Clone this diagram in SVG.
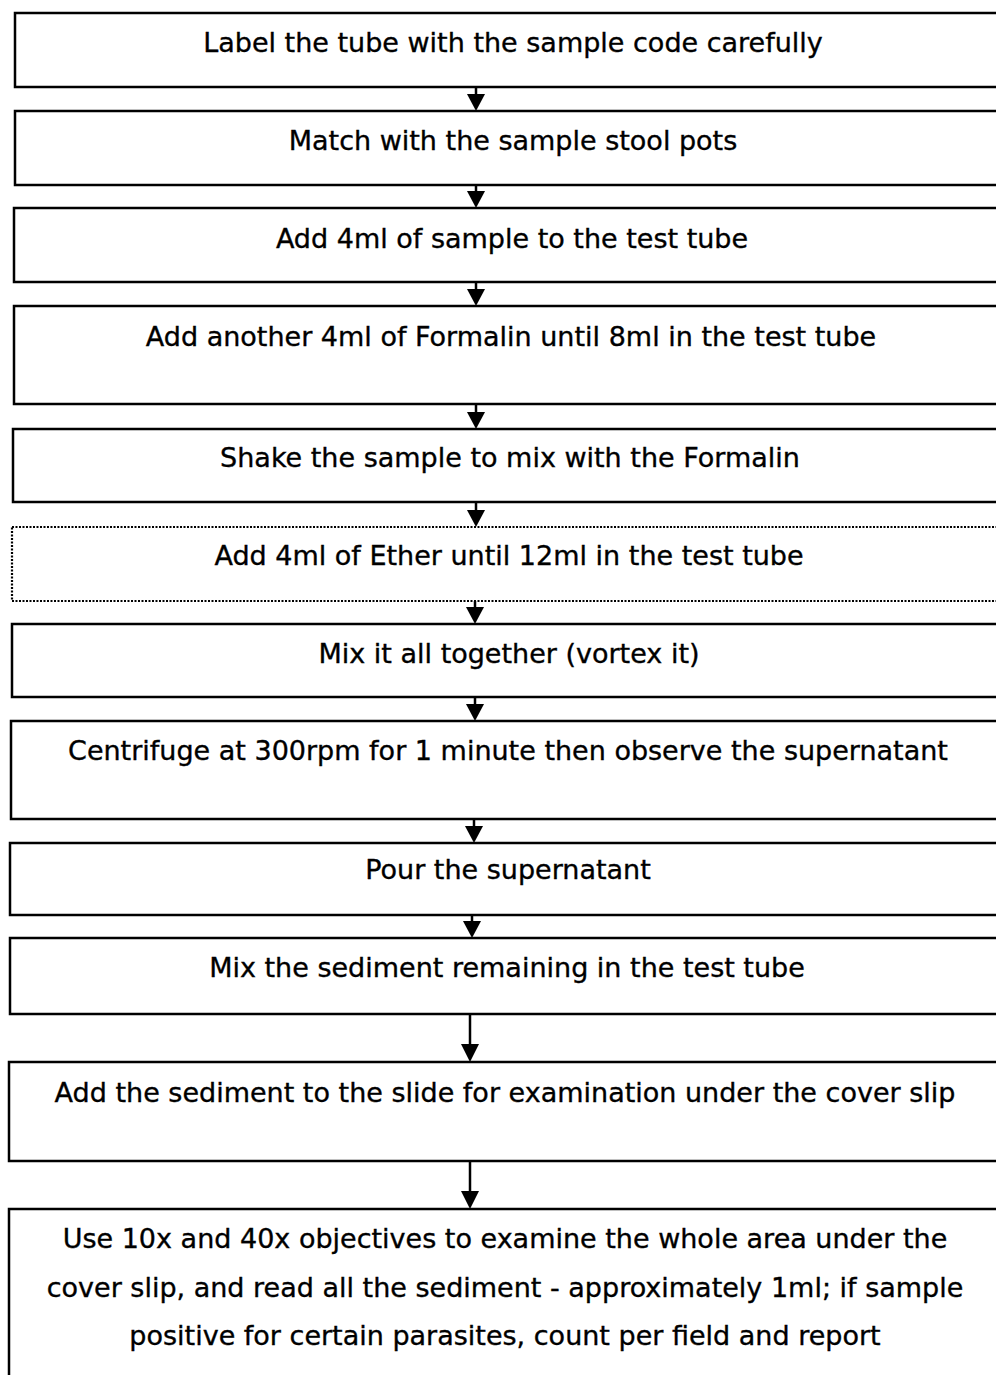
<svg xmlns="http://www.w3.org/2000/svg" width="996" height="1375" viewBox="0 0 996 1375">
<defs>
<style>
.box{fill:#fff;stroke:#000;stroke-width:2.5}
.dot{fill:#fff;stroke:#000;stroke-width:2.2;stroke-dasharray:2 1.5}
.t{font-family:"DejaVu Sans","Verdana",sans-serif;font-size:27px;fill:#000;stroke:#000;stroke-width:0.35;text-anchor:middle}
.ln{stroke:#000;stroke-width:2.5;fill:none}
</style>
</defs>
<rect width="996" height="1375" fill="#fff"/>
<g id="connectors">
<line class="ln" x1="476" y1="87" x2="476" y2="100"/><path d="M467,94 L485,94 L476,111 z"/>
<line class="ln" x1="476" y1="185" x2="476" y2="197"/><path d="M467,191 L485,191 L476,208 z"/>
<line class="ln" x1="476" y1="282" x2="476" y2="295"/><path d="M467,289 L485,289 L476,306 z"/>
<line class="ln" x1="476" y1="404" x2="476" y2="418"/><path d="M467,412 L485,412 L476,429 z"/>
<line class="ln" x1="476" y1="502" x2="476" y2="516"/><path d="M467,510 L485,510 L476,527 z"/>
<line class="ln" x1="475" y1="601" x2="475" y2="613"/><path d="M466,607 L484,607 L475,624 z"/>
<line class="ln" x1="475" y1="697" x2="475" y2="710"/><path d="M466,704 L484,704 L475,721 z"/>
<line class="ln" x1="474" y1="819" x2="474" y2="832"/><path d="M465,826 L483,826 L474,843 z"/>
<line class="ln" x1="472" y1="915" x2="472" y2="927"/><path d="M463,921 L481,921 L472,938 z"/>
<line class="ln" x1="470" y1="1014" x2="470" y2="1050"/><path d="M461,1044 L479,1044 L470,1062 z"/>
<line class="ln" x1="470" y1="1161" x2="470" y2="1197"/><path d="M461,1191 L479,1191 L470,1209 z"/>
</g>
<g id="n1"><rect class="box" x="15" y="13" width="1000" height="74"/><text class="t" x="513" y="52">Label the tube with the sample code carefully</text></g>
<g id="n2"><rect class="box" x="15" y="111" width="1000" height="74"/><text class="t" x="513" y="150">Match with the sample stool pots</text></g>
<g id="n3"><rect class="box" x="14" y="208" width="1000" height="74"/><text class="t" x="512" y="248">Add 4ml of sample to the test tube</text></g>
<g id="n4"><rect class="box" x="14" y="306" width="1000" height="98"/><text class="t" x="511" y="346">Add another 4ml of Formalin until 8ml in the test tube</text></g>
<g id="n5"><rect class="box" x="13" y="429" width="1000" height="73"/><text class="t" x="510" y="467">Shake the sample to mix with the Formalin</text></g>
<g id="n6"><rect class="dot" x="12" y="527" width="1000" height="74"/><text class="t" x="509" y="565">Add 4ml of Ether until 12ml in the test tube</text></g>
<g id="n7"><rect class="box" x="12" y="624" width="1000" height="73"/><text class="t" x="509" y="663">Mix it all together (vortex it)</text></g>
<g id="n8"><rect class="box" x="11" y="721" width="1000" height="98"/><text class="t" x="508" y="760">Centrifuge at 300rpm for 1 minute then observe the supernatant</text></g>
<g id="n9"><rect class="box" x="10" y="843" width="1000" height="72"/><text class="t" x="508" y="879">Pour the supernatant</text></g>
<g id="n10"><rect class="box" x="10" y="938" width="1000" height="76"/><text class="t" x="507" y="977">Mix the sediment remaining in the test tube</text></g>
<g id="n11"><rect class="box" x="9" y="1062" width="1000" height="99"/><text class="t" x="505" y="1102">Add the sediment to the slide for examination under the cover slip</text></g>
<g id="n12"><rect class="box" x="9" y="1209" width="1000" height="200"/>
<text class="t" x="505" y="1248">Use 10x and 40x objectives to examine the whole area under the</text>
<text class="t" x="505" y="1297">cover slip, and read all the sediment - approximately 1ml; if sample</text>
<text class="t" x="505" y="1345">positive for certain parasites, count per field and report</text></g>
</svg>
